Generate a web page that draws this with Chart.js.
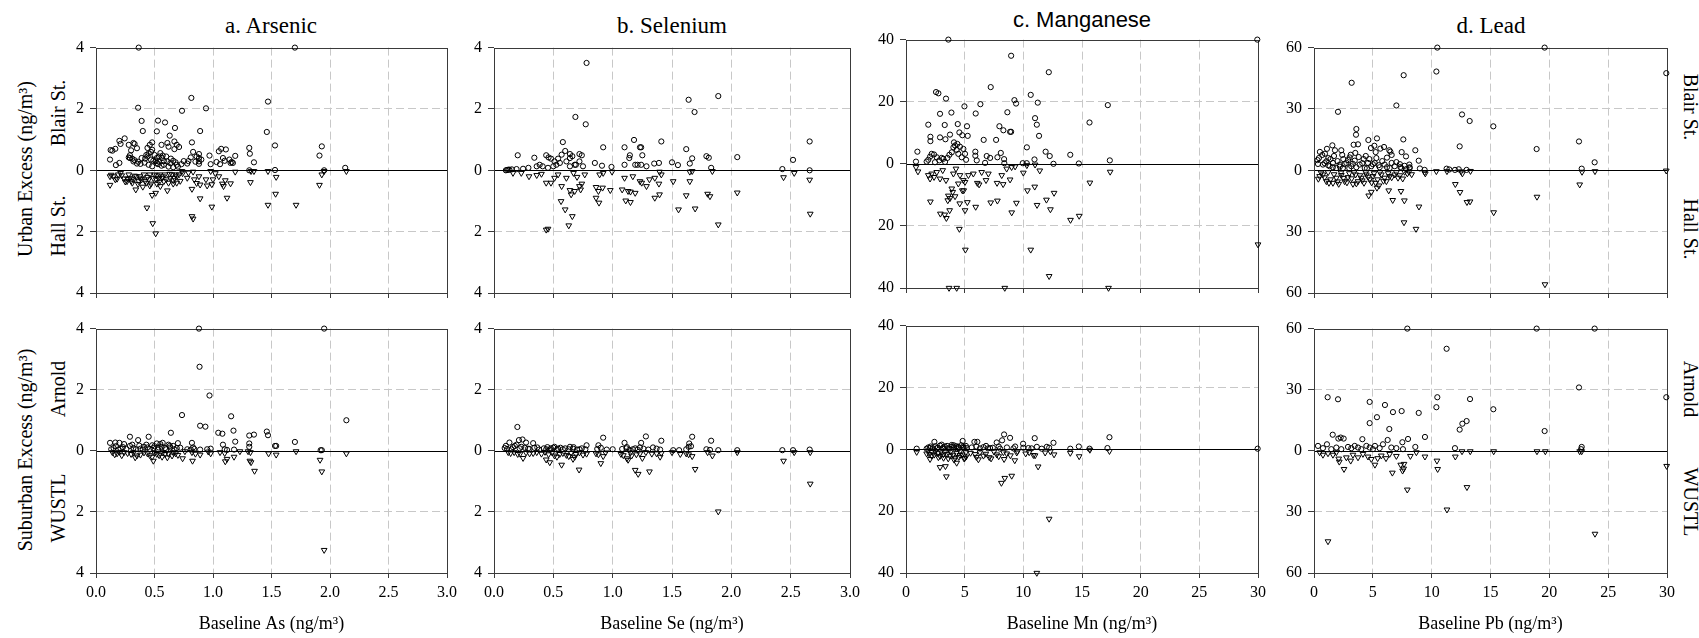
<!DOCTYPE html>
<html><head><meta charset="utf-8">
<script src="https://cdn.jsdelivr.net/npm/chart.js@4.4.1/dist/chart.umd.min.js"></script>
<style>
body{margin:0;background:#fff;width:1699px;height:638px;overflow:hidden;position:relative;font-family:"Liberation Serif","Times New Roman",serif;}
canvas{position:absolute;}
.t{position:absolute;white-space:nowrap;line-height:1;color:#000;}
.c{transform:translateX(-50%);}
.rl{transform:translate(-50%,-50%) rotate(-90deg);}
.rr{transform:translate(-50%,-50%) rotate(90deg);}
</style></head><body>
<div class="t c" style="left:271px;top:14px;font-size:23px;">a. Arsenic</div>
<div class="t c" style="left:672px;top:14px;font-size:23px;">b. Selenium</div>
<div class="t c" style="left:1082px;top:9px;font-size:22px;font-family:'Liberation Sans',sans-serif;">c. Manganese</div>
<div class="t c" style="left:1491px;top:14px;font-size:23px;">d. Lead</div>
<div class="t rl" style="left:25px;top:169px;font-size:20px;">Urban Excess (ng/m³)</div>
<div class="t rl" style="left:58px;top:113px;font-size:20px;">Blair St.</div>
<div class="t rl" style="left:58px;top:226px;font-size:20px;">Hall St.</div>
<div class="t rl" style="left:25px;top:450px;font-size:20px;">Suburban Excess (ng/m³)</div>
<div class="t rl" style="left:58px;top:389px;font-size:20px;">Arnold</div>
<div class="t rl" style="left:58px;top:508px;font-size:20px;">WUSTL</div>
<div class="t rr" style="left:1691px;top:107px;font-size:20px;">Blair St.</div>
<div class="t rr" style="left:1691px;top:229px;font-size:20px;">Hall St.</div>
<div class="t rr" style="left:1691px;top:389px;font-size:20px;">Arnold</div>
<div class="t rr" style="left:1691px;top:502px;font-size:20px;">WUSTL</div>
<script>
// ---- Data: [baseline, excess] pairs (Hall St./WUSTL excess stored as magnitudes) ----
const asBlair = [[0.365,4],[1.70,4],[0.36,2.04],[0.815,2.36],[0.94,2.02],[0.735,1.94],[1.47,2.24],[1.46,1.25],[0.39,1.61],[0.40,1.28],[0.53,1.62],[0.59,1.56],[0.52,1.27],[0.675,1.38],[0.89,1.28],[0.63,1.13],[0.82,0.91],[1.53,0.81],[1.93,0.78],[1.91,0.48],[0.245,1.04],[0.20,0.96],[0.32,0.89],[0.33,0.86],[0.28,0.83],[0.125,0.66],[0.14,0.64],[0.165,0.70],[0.21,0.86],[0.12,0.35],[0.17,0.17],[0.20,0.24],[0.28,0.42],[0.29,0.40],[0.30,0.65],[0.35,0.72],[0.44,0.73],[0.46,0.83],[0.48,0.91],[0.48,0.67],[0.56,0.83],[0.55,0.56],[0.57,0.48],[0.61,0.89],[0.62,0.77],[0.67,0.94],[0.67,0.69],[0.69,0.83],[0.71,0.76],[0.83,0.60],[0.81,0.42],[0.88,0.53],[0.88,0.40],[0.88,0.29],[0.88,0.21],[0.97,0.48],[0.98,0.20],[0.79,0.30],[0.85,0.28],[1.05,0.62],[1.07,0.70],[1.11,0.68],[1.085,0.40],[1.10,0.31],[1.19,0.47],[1.15,0.24],[1.17,0.24],[1.31,0.73],[1.315,0.54],[1.35,0.26],[1.31,0.0],[1.53,0.01],[1.95,0.0],[2.13,0.08],[0.32,0.29],[0.35,0.22],[0.39,0.40],[0.44,0.45],[0.47,0.35],[0.49,0.31],[0.52,0.40],[0.535,0.29],[0.565,0.40],[0.58,0.18],[0.61,0.29],[0.635,0.23],[0.66,0.31],[0.69,0.18],[0.66,0.10],[0.48,0.13],[0.45,0.18],[0.415,0.25],[0.52,0.24],[0.29,0.49],[0.31,0.38],[0.33,0.33],[0.36,0.28],[0.38,0.21],[0.42,0.38],[0.43,0.5],[0.45,0.55],[0.47,0.6],[0.5,0.5],[0.51,0.3],[0.53,0.2],[0.54,0.45],[0.56,0.15],[0.58,0.3],[0.6,0.45],[0.62,0.12],[0.64,0.38],[0.68,0.26],[0.7,0.12],[0.73,0.2],[0.75,0.3],[0.78,0.22],[0.86,0.45],[0.9,0.35],[1.03,0.27],[1.06,0.2],[1.14,0.35],[1.16,0.27]];
const asHall = [[0.12,0.48],[0.12,0.2],[0.165,0.3],[0.19,0.14],[0.21,0.09],[0.265,0.36],[0.29,0.25],[0.31,0.41],[0.34,0.63],[0.365,0.36],[0.375,0.2],[0.40,0.54],[0.435,1.22],[0.43,0.41],[0.45,0.3],[0.48,0.81],[0.485,1.73],[0.51,2.06],[0.51,0.74],[0.52,0.44],[0.535,0.25],[0.55,0.52],[0.58,0.36],[0.61,0.66],[0.635,0.25],[0.66,0.44],[0.68,0.14],[0.69,0.41],[0.735,0.03],[0.78,0.25],[0.82,0.61],[0.82,1.50],[0.83,1.58],[0.83,0.05],[0.88,0.2],[0.89,0.47],[0.89,0.92],[0.94,0.30],[0.99,1.19],[0.99,0.46],[0.98,0.03],[1.05,0.2],[1.08,0.44],[1.09,0.52],[1.105,0.33],[1.12,0.90],[1.15,0.43],[1.19,0.05],[1.32,0.39],[1.325,0.03],[1.35,0.03],[1.47,1.13],[1.47,0.03],[1.535,0.77],[1.54,0.22],[1.71,1.13],[1.91,0.48],[1.93,0.14],[1.95,0.03],[2.14,0.03],[0.24,0.27],[0.28,0.14],[0.32,0.3],[0.345,0.2],[0.39,0.3],[0.41,0.14],[0.46,0.14],[0.47,0.44],[0.50,0.14],[0.515,0.3],[0.545,0.14],[0.565,0.25],[0.59,0.14],[0.62,0.41],[0.65,0.14],[0.67,0.25],[0.71,0.14],[0.13,0.15],[0.15,0.2],[0.18,0.28],[0.22,0.17],[0.25,0.37],[0.27,0.28],[0.30,0.35],[0.33,0.18],[0.36,0.45],[0.38,0.27],[0.42,0.35],[0.44,0.22],[0.46,0.5],[0.49,0.26],[0.52,0.17],[0.54,0.38],[0.57,0.2],[0.6,0.3],[0.63,0.12],[0.66,0.33],[0.69,0.2],[0.72,0.35],[0.74,0.1],[0.79,0.08],[0.84,0.3],[0.86,0.42],[0.95,0.5],[1.0,0.3],[1.02,0.1]];
const asArnold = [[0.88,4],[1.95,4],[0.885,2.75],[0.97,1.81],[0.735,1.17],[1.155,1.13],[2.14,1.0],[0.89,0.82],[0.935,0.79],[0.64,0.59],[1.045,0.59],[1.08,0.56],[1.175,0.66],[1.19,0.30],[1.31,0.50],[1.35,0.53],[1.46,0.63],[1.47,0.51],[1.70,0.29],[1.53,0.16],[1.54,0.16],[1.31,0.24],[1.31,0.13],[0.29,0.46],[0.45,0.46],[0.36,0.35],[0.12,0.26],[0.165,0.27],[0.20,0.26],[0.24,0.22],[0.29,0.16],[0.41,0.13],[0.48,0.18],[0.52,0.24],[0.55,0.22],[0.57,0.26],[0.62,0.20],[0.66,0.16],[0.70,0.25],[0.82,0.26],[1.085,0.20],[0.83,0.11],[1.92,0.02],[1.93,0.02],[0.15,0.09],[0.21,0.07],[0.32,0.09],[0.38,0.07],[0.44,0.11],[0.49,0.09],[0.535,0.11],[0.59,0.09],[0.635,0.11],[0.69,0.09],[0.78,0.05],[0.89,0.04],[0.98,0.07],[1.18,0.04],[0.13,0.05],[0.17,0.15],[0.19,0.04],[0.23,0.12],[0.26,0.06],[0.31,0.2],[0.34,0.05],[0.37,0.17],[0.4,0.04],[0.43,0.2],[0.46,0.06],[0.5,0.15],[0.53,0.04],[0.56,0.13],[0.6,0.05],[0.63,0.16],[0.67,0.05],[0.72,0.1],[0.81,0.04],[0.84,0.06],[0.95,0.05],[1.1,0.05],[1.12,0.03]];
const asWustl = [[1.95,3.25],[1.93,0.68],[1.915,0.30],[1.355,0.66],[1.315,0.33],[1.325,0.38],[1.105,0.35],[1.12,0.27],[1.18,0.20],[0.825,0.33],[0.74,0.25],[0.335,0.22],[0.49,0.33],[0.61,0.22],[1.54,0.13],[1.475,0.09],[1.71,0.02],[2.14,0.09],[0.89,0.13],[0.98,0.09],[0.14,0.05],[0.18,0.09],[0.24,0.05],[0.30,0.11],[0.38,0.13],[0.44,0.09],[0.48,0.20],[0.52,0.11],[0.565,0.20],[0.59,0.11],[0.65,0.16],[0.68,0.09],[0.76,0.02],[0.82,0.05],[1.06,0.05],[1.23,0.02],[1.30,0.02],[0.16,0.12],[0.2,0.04],[0.22,0.15],[0.27,0.08],[0.32,0.05],[0.35,0.16],[0.41,0.06],[0.46,0.15],[0.5,0.06],[0.54,0.15],[0.57,0.05],[0.62,0.1],[0.66,0.05],[0.7,0.14],[0.85,0.1],[0.96,0.03],[1.1,0.08],[1.32,0.05]];

const seBlair = [[0.78,3.50],[0.686,1.74],[0.773,1.50],[1.64,2.30],[1.69,1.90],[1.89,2.42],[0.58,0.92],[0.60,0.63],[1.18,0.99],[1.10,0.75],[1.23,0.75],[1.24,0.75],[1.41,0.94],[0.92,0.75],[1.62,0.69],[0.20,0.49],[0.34,0.41],[0.44,0.49],[0.46,0.42],[0.48,0.38],[0.51,0.29],[0.54,0.38],[0.57,0.51],[0.64,0.53],[0.66,0.46],[0.72,0.53],[0.74,0.49],[0.64,0.40],[0.68,0.18],[1.14,0.40],[1.145,0.49],[1.25,0.49],[1.67,0.39],[1.65,0.22],[1.79,0.46],[1.81,0.41],[1.50,0.26],[1.55,0.17],[2.05,0.43],[2.52,0.34],[2.66,0.94],[2.66,0.0],[2.43,0.04],[0.85,0.24],[0.91,0.15],[0.99,0.11],[1.10,0.18],[1.19,0.18],[1.21,0.18],[1.24,0.18],[1.35,0.22],[1.39,0.24],[1.285,0.13],[1.83,0.08],[0.10,0.0],[0.11,0.01],[0.12,0.02],[0.13,0.02],[0.15,0.03],[0.19,0.04],[0.245,0.05],[0.29,0.08],[0.36,0.13],[0.385,0.18],[0.41,0.13],[0.455,0.08],[0.50,0.13],[0.525,0.18],[0.555,0.24],[0.61,0.29],[0.64,0.13],[0.69,0.18],[0.72,0.29],[0.75,0.13]];
const seHall = [[0.44,1.94],[0.455,1.91],[0.63,1.80],[0.565,1.01],[0.60,1.28],[0.66,1.50],[0.57,0.52],[0.64,0.65],[0.65,0.79],[0.68,0.68],[0.72,0.52],[0.74,0.44],[0.73,0.63],[0.86,0.55],[0.88,0.68],[0.915,0.57],[0.86,0.90],[0.885,1.06],[0.98,0.65],[1.08,0.63],[1.13,0.68],[1.15,0.70],[1.19,0.74],[1.11,0.99],[1.15,1.04],[1.23,0.36],[1.245,0.41],[1.285,0.52],[1.31,0.30],[1.355,0.25],[1.39,0.44],[1.355,0.90],[1.395,0.79],[1.41,0.14],[1.51,0.36],[1.555,1.28],[1.62,0.82],[1.65,0.36],[1.65,0.05],[1.67,0.03],[1.695,1.25],[1.80,0.77],[1.82,0.85],[1.84,0.03],[1.89,1.77],[2.05,0.73],[2.44,0.23],[2.53,0.09],[2.66,0.31],[2.665,1.42],[0.16,0.09],[0.23,0.09],[0.295,0.2],[0.36,0.16],[0.40,0.12],[0.44,0.41],[0.48,0.41],[0.51,0.25],[0.54,0.14],[0.61,0.25],[0.67,0.09],[0.70,0.22],[0.765,0.14],[0.89,0.14],[0.92,0.09],[0.995,0.05],[1.10,0.25],[1.17,0.2],[1.395,0.05]];
const seArnold = [[0.197,0.78],[0.13,0.27],[0.21,0.35],[0.24,0.37],[0.27,0.27],[0.33,0.25],[0.10,0.16],[0.175,0.16],[0.92,0.43],[0.88,0.18],[1.10,0.26],[1.24,0.26],[1.28,0.47],[1.41,0.33],[1.67,0.46],[1.645,0.24],[1.83,0.33],[1.64,0.13],[1.23,0.11],[1.34,0.11],[1.89,0.02],[2.05,0.02],[2.43,0.02],[2.52,0.02],[2.66,0.04],[1.51,0.02],[1.56,0.02],[0.365,0.11],[0.51,0.13],[0.64,0.13],[0.78,0.18],[1.0,0.05],[1.79,0.05],[0.09,0.09],[0.146,0.05],[0.216,0.08],[0.287,0.07],[0.44,0.05],[0.48,0.08],[0.54,0.07],[0.58,0.05],[0.666,0.07],[0.72,0.05],[1.116,0.08],[1.17,0.05],[1.37,0.07],[0.11,0.06],[0.16,0.12],[0.19,0.2],[0.23,0.13],[0.26,0.1],[0.3,0.06],[0.34,0.1],[0.38,0.04],[0.42,0.08],[0.45,0.12],[0.47,0.04],[0.5,0.1],[0.53,0.04],[0.56,0.1],[0.6,0.08],[0.63,0.05],[0.67,0.12],[0.7,0.04],[0.74,0.08],[0.77,0.05],[0.87,0.06],[0.9,0.1],[0.95,0.04],[1.08,0.06],[1.12,0.12],[1.14,0.03],[1.19,0.08],[1.21,0.04],[1.26,0.07],[1.3,0.04],[1.4,0.04],[1.62,0.05],[1.66,0.15],[1.82,0.03]];
const seWustl = [[1.89,1.99],[2.665,1.08],[2.44,0.33],[1.695,0.60],[1.31,0.68],[1.215,0.76],[1.19,0.63],[0.717,0.62],[0.57,0.46],[0.47,0.38],[0.44,0.29],[0.90,0.41],[0.245,0.24],[1.13,0.30],[1.25,0.24],[0.666,0.27],[0.92,0.18],[1.40,0.2],[1.67,0.18],[1.84,0.16],[1.57,0.11],[2.05,0.05],[2.53,0.05],[2.665,0.05],[0.20,0.11],[0.12,0.05],[0.30,0.09],[0.51,0.16],[0.554,0.11],[0.61,0.14],[0.69,0.11],[0.75,0.13],[0.86,0.09],[1.07,0.11],[1.16,0.16],[1.23,0.09],[1.37,0.09],[1.62,0.09],[0.14,0.08],[0.17,0.05],[0.22,0.1],[0.27,0.06],[0.33,0.08],[0.36,0.05],[0.4,0.1],[0.43,0.04],[0.46,0.12],[0.49,0.06],[0.53,0.2],[0.58,0.08],[0.63,0.18],[0.65,0.07],[0.68,0.2],[0.72,0.06],[0.78,0.1],[0.88,0.12],[0.94,0.06],[1.09,0.15],[1.12,0.25],[1.15,0.06],[1.2,0.12],[1.28,0.05],[1.33,0.1],[1.41,0.08],[1.5,0.05],[1.64,0.12],[1.8,0.05]];

const mnBlair = [[3.61,40],[29.94,40],[8.96,34.8],[12.17,29.5],[7.22,24.7],[2.56,23.1],[2.76,22.7],[3.41,21.0],[10.63,22.2],[11.23,19.7],[9.24,20.5],[9.38,19.4],[6.34,19.2],[4.98,18.5],[17.2,18.9],[3.87,16.5],[2.90,16.1],[5.94,16.2],[8.64,16.6],[11.0,14.7],[11.15,12.6],[15.64,13.3],[1.90,12.6],[3.30,12.5],[4.41,12.8],[5.20,12.1],[7.96,12.1],[8.30,10.8],[8.87,10.3],[8.96,10.3],[11.34,9.0],[2.08,8.7],[2.08,7.3],[2.90,8.5],[3.75,9.4],[4.55,10.1],[4.80,9.2],[5.26,9.0],[6.62,7.7],[7.68,7.7],[3.36,7.9],[10.3,5.3],[5.91,3.9],[5.91,2.6],[6.88,2.5],[7.17,1.9],[8.08,3.5],[7.79,2.1],[8.36,1.5],[11.9,3.9],[12.25,2.5],[14.0,2.9],[10.95,1.4],[17.37,1.1],[0.97,3.9],[0.85,0.7],[1.9,1.3],[2.05,2.3],[2.19,3.2],[2.39,3.0],[2.62,2.1],[2.84,1.1],[3.04,1.9],[3.33,0.6],[3.53,1.9],[3.70,2.9],[3.90,3.7],[4.04,5.3],[4.18,5.9],[4.32,4.5],[4.46,3.2],[4.6,5.5],[4.75,2.1],[4.89,4.8],[5.03,3.2],[5.12,1.3],[4.09,6.9],[4.38,6.4],[3.18,1.6],[2.47,0.5],[1.76,0.7],[6.03,1.1],[6.74,0.3],[8.38,0.2],[9.95,0.2],[10.29,0.2],[12.57,0.0],[14.73,0.1]];
const mnHall = [[3.67,40],[4.32,40],[8.42,40],[17.26,40],[30.0,26.0],[12.2,36.2],[5.06,27.7],[10.63,27.7],[4.55,21.0],[2.93,16.1],[3.30,16.4],[3.44,17.5],[3.72,15.0],[2.08,12.2],[4.58,12.8],[5.03,15.0],[5.23,12.4],[5.94,13.9],[7.22,12.5],[7.79,11.9],[9.01,15.7],[9.41,12.6],[11.17,13.3],[11.97,11.6],[12.31,14.7],[12.62,9.4],[14.02,18.1],[14.76,16.8],[15.67,6.1],[17.40,2.6],[10.0,2.9],[10.35,8.6],[10.97,7.4],[11.4,2.2],[4.8,8.6],[4.92,8.6],[3.61,10.3],[3.75,11.1],[3.98,9.1],[4.18,10.5],[3.90,8.0],[3.56,11.8],[6.08,6.2],[6.23,6.7],[6.82,5.3],[7.76,6.2],[8.28,6.6],[8.87,5.1],[8.16,3.7],[5.32,3.7],[4.46,6.4],[4.89,5.3],[1.02,2.5],[0.85,1.1],[1.90,3.7],[2.05,4.8],[2.19,3.2],[2.39,4.3],[2.62,2.7],[2.90,4.8],[3.13,2.1],[3.41,5.3],[4.04,3.2],[4.26,1.6],[4.6,3.7],[5.03,5.9],[5.74,3.2],[6.45,2.7],[7.02,3.2],[8.58,1.6],[9.0,1.1],[9.3,0.9],[10.3,0.5],[11.0,0.3]];
const mnArnold = [[8.36,4.8],[8.19,2.9],[8.87,3.7],[7.73,2.2],[17.34,3.9],[10.97,3.6],[9.98,1.8],[12.57,2.1],[14.73,0.9],[14.0,0.2],[2.42,2.4],[3.04,1.5],[4.83,2.7],[5.83,2.4],[6.08,2.4],[6.82,1.1],[4.07,1.3],[4.46,0.8],[11.15,0.8],[12.0,0.8],[17.17,0.4],[15.64,0.2],[29.97,0.2],[0.91,0.2],[1.76,0.2],[2.05,0.4],[2.62,0.3],[3.18,0.6],[3.61,0.4],[3.9,0.8],[4.32,0.3],[4.89,0.9],[5.17,0.4],[6.31,0.3],[7.17,0.4],[8.02,0.2],[9.16,0.3],[10.43,0.4],[11.57,0.2],[1.9,0.6],[2.1,0.9],[2.3,0.3],[2.5,1.0],[2.7,0.5],[2.9,1.2],[3.1,0.3],[3.3,0.9],[3.5,1.1],[3.7,0.2],[3.9,1.4],[4.1,0.6],[4.3,1.0],[4.5,0.4],[4.7,1.3],[4.9,0.5],[5.1,1.1],[5.6,0.6],[6.0,0.9],[6.6,0.7],[7.0,0.3],[7.4,0.5],[7.9,0.9],[8.6,0.6],[9.3,0.9],[10.0,0.5],[10.7,0.3],[12.2,0.5]];
const mnWustl = [[11.15,40],[12.2,22.5],[8.13,10.9],[8.42,9.3],[9.01,8.6],[3.44,8.8],[2.90,5.8],[3.36,5.5],[11.26,5.6],[9.27,3.6],[8.36,3.2],[7.25,3.0],[6.17,3.3],[4.32,4.4],[2.05,3.2],[4.95,3.0],[14.76,2.3],[12.62,1.7],[14.0,1.2],[10.86,1.9],[10.2,1.4],[17.34,0.6],[15.67,0.2],[0.91,0.9],[1.76,1.4],[2.19,2.1],[2.76,2.6],[3.18,1.7],[3.75,2.1],[4.18,2.8],[4.6,1.9],[5.12,2.4],[5.89,1.6],[6.6,2.1],[7.73,1.7],[8.58,1.4],[9.44,1.1],[11.86,1.1],[1.9,0.5],[2.0,1.6],[2.2,0.8],[2.4,1.8],[2.5,0.6],[2.7,1.3],[2.9,2.2],[3.0,0.7],[3.2,2.8],[3.3,1.0],[3.5,1.6],[3.6,3.0],[3.8,0.8],[4.0,1.8],[4.1,3.4],[4.3,1.2],[4.5,2.5],[4.6,0.7],[4.8,1.7],[5.0,2.9],[5.1,1.0],[5.5,1.2],[6.0,2.5],[6.3,1.0],[6.8,1.5],[7.1,2.6],[7.5,0.8],[7.9,2.3],[8.3,1.0],[8.9,2.0],[9.5,0.7],[10.5,1.0],[11.0,2.0],[12.3,0.7]];

const pbBlair = [[10.48,60],[19.6,60],[29.94,47.5],[10.4,48.3],[7.62,46.5],[3.20,42.8],[2.04,28.6],[7.0,31.7],[12.58,27.3],[13.23,24.1],[15.24,21.5],[12.38,11.7],[18.92,10.4],[22.52,14.1],[23.85,3.9],[22.75,0.8],[3.60,20.2],[3.57,17.4],[3.37,12.5],[3.74,12.7],[3.51,8.5],[4.62,14.8],[5.35,15.6],[4.84,10.9],[5.13,12.0],[5.24,8.9],[5.64,10.6],[5.95,11.4],[6.40,9.8],[6.49,9.1],[7.59,15.1],[7.45,8.9],[7.82,6.8],[8.61,9.8],[8.9,4.7],[1.56,12.2],[2.32,9.8],[1.78,9.8],[2.49,5.5],[0.42,6.0],[0.34,3.1],[0.93,8.1],[1.22,6.0],[3.03,6.3],[3.12,7.6],[4.22,5.5],[6.20,6.2],[6.6,3.6],[7.34,1.6],[8.13,1.5],[9.40,0.2],[11.27,0.8],[11.98,0.2],[12.97,0.2],[0.76,2.8],[1.05,4.4],[1.33,2.0],[1.61,3.6],[1.9,1.1],[2.18,2.8],[2.46,1.1],[2.75,3.6],[3.17,2.0],[3.46,4.7],[3.88,2.8],[4.31,1.1],[4.59,3.6],[4.87,2.0],[5.16,3.6],[5.58,1.5],[6.0,2.8],[6.43,1.1],[6.86,2.0],[7.42,1.1],[7.85,0.6],[8.13,1.1],[0.3,5.0],[0.5,9.0],[0.7,7.5],[0.9,3.5],[1.1,10.5],[1.2,2.5],[1.4,5.5],[1.6,1.5],[1.7,7.0],[2.0,4.5],[2.2,1.8],[2.4,7.5],[2.6,3.0],[2.9,5.0],[3.0,1.0],[3.3,3.2],[3.6,1.5],[3.8,6.5],[4.1,3.5],[4.4,7.0],[4.5,1.0],[4.7,5.5],[5.0,3.0],[5.3,6.0],[5.5,2.5],[5.8,4.5],[6.2,1.5],[6.6,7.5],[7.0,4.0],[7.3,3.0],[7.7,2.2],[8.1,2.8],[9.0,0.9],[11.5,0.4],[12.3,0.5]];
const pbHall = [[19.63,55.8],[8.67,28.7],[7.65,25.5],[8.92,17.8],[7.68,14.8],[7.39,10.2],[6.69,14.6],[6.35,9.9],[4.65,12.4],[4.87,10.6],[5.35,8.6],[5.52,7.5],[6.15,5.4],[6.0,3.7],[12.01,6.8],[12.41,10.7],[13.0,15.6],[13.26,15.3],[15.27,20.6],[18.95,13.0],[22.58,7.0],[22.78,0.8],[23.88,0.5],[29.94,0.2],[12.61,1.6],[11.3,0.5],[10.4,0.5],[9.46,1.6],[7.54,4.1],[7.93,1.6],[0.37,4.2],[0.48,2.9],[0.76,2.1],[1.05,5.4],[1.27,6.2],[1.61,6.2],[1.9,3.7],[2.1,6.7],[2.32,2.4],[2.6,5.4],[2.89,3.4],[3.31,6.7],[3.54,2.1],[3.74,5.4],[4.02,3.7],[4.25,6.2],[4.45,2.1],[4.73,4.5],[5.01,2.9],[5.24,6.2],[5.72,2.1],[6.43,2.9],[6.86,2.1],[7.14,3.7],[8.07,0.8],[0.6,1.2],[0.9,3.5],[1.2,1.0],[1.4,4.5],[1.7,2.0],[2.0,5.5],[2.3,1.2],[2.5,3.8],[2.8,6.0],[3.0,1.5],[3.2,4.0],[3.4,1.0],[3.6,6.5],[3.9,2.5],[4.1,5.0],[4.4,1.0],[4.6,3.2],[4.9,6.0],[5.1,1.5],[5.4,4.5],[5.6,1.0],[5.9,5.2],[6.3,1.5],[6.6,3.5],[7.0,1.0],[7.3,2.5],[7.7,0.8],[8.3,2.0],[9.4,1.0],[12.5,0.6],[13.3,0.4]];
const pbArnold = [[7.93,60],[18.92,60],[23.85,60],[11.27,50.1],[22.52,31.1],[29.94,26.3],[1.16,26.3],[2.04,25.3],[4.73,24.0],[6.03,22.5],[6.71,19.0],[7.45,19.5],[8.9,18.6],[10.48,26.3],[10.4,21.4],[13.26,25.4],[15.24,20.4],[5.35,16.5],[4.73,13.6],[6.40,10.7],[9.43,6.8],[12.38,10.4],[12.61,13.3],[12.97,14.6],[19.6,9.7],[1.59,7.9],[2.07,6.0],[2.27,6.5],[2.52,6.0],[4.11,5.7],[6.26,5.3],[7.99,5.8],[7.51,4.2],[8.61,1.9],[11.98,1.3],[22.75,1.9],[22.7,0.8],[0.34,2.4],[1.10,3.2],[5.86,3.2],[5.18,2.4],[0.76,1.3],[1.47,0.8],[1.9,1.6],[2.32,0.8],[2.89,1.9],[3.17,1.3],[3.46,2.4],[3.74,1.6],[4.02,0.8],[4.45,2.4],[4.73,1.6],[5.01,0.8],[5.58,1.3],[6.57,1.6],[7.0,1.3],[7.56,0.8]];
const pbWustl = [[1.19,44.5],[23.88,40.8],[11.3,28.9],[13.0,17.9],[7.93,19.1],[29.97,7.5],[10.51,9.0],[10.45,4.9],[6.66,10.8],[7.53,9.8],[7.62,8.8],[7.37,6.9],[7.65,6.5],[9.43,2.9],[12.01,2.9],[2.55,9.0],[2.15,5.4],[2.10,3.9],[3.12,4.9],[5.18,6.9],[5.41,3.7],[6.12,3.7],[13.28,0.3],[12.58,0.3],[15.27,0.3],[18.95,0.3],[19.66,0.3],[22.58,0.3],[22.75,0.3],[8.19,2.6],[8.7,0.8],[0.48,0.8],[0.76,2.0],[1.19,1.3],[1.61,2.0],[1.90,0.8],[2.75,3.3],[3.31,2.0],[3.74,3.3],[4.16,1.6],[4.59,2.9],[4.87,4.1],[5.72,2.4],[6.43,1.6],[7.0,2.6]];

// axis titles
const xTitles = {As:'Baseline As (ng/m³)', Se:'Baseline Se (ng/m³)', Mn:'Baseline Mn (ng/m³)', Pb:'Baseline Pb (ng/m³)'};

// ---- layout (positions only) ----
const PAD_L = 60, PAD_T = 14, PAD_R = 24;
const panels = [
  {L:96,  T:46,  W:351, H:247, xMax:3,  xStep:0.5, dec:1, yMax:4,  yStep:2,  up:asBlair,  down:asHall,   xTitle:null},
  {L:494, T:46,  W:356, H:247, xMax:3,  xStep:0.5, dec:1, yMax:4,  yStep:2,  up:seBlair,  down:seHall,   xTitle:null},
  {L:906, T:38,  W:352, H:250, xMax:30, xStep:5,   dec:0, yMax:40, yStep:20, up:mnBlair,  down:mnHall,   xTitle:null},
  {L:1314,T:46,  W:353, H:247, xMax:30, xStep:5,   dec:0, yMax:60, yStep:30, up:pbBlair,  down:pbHall,   xTitle:null},
  {L:96,  T:327, W:351, H:246, xMax:3,  xStep:0.5, dec:1, yMax:4,  yStep:2,  up:asArnold, down:asWustl,  xTitle:xTitles.As},
  {L:494, T:327, W:356, H:246, xMax:3,  xStep:0.5, dec:1, yMax:4,  yStep:2,  up:seArnold, down:seWustl,  xTitle:xTitles.Se},
  {L:906, T:324, W:352, H:249, xMax:30, xStep:5,   dec:0, yMax:40, yStep:20, up:mnArnold, down:mnWustl,  xTitle:xTitles.Mn},
  {L:1314,T:327, W:353, H:246, xMax:30, xStep:5,   dec:0, yMax:60, yStep:30, up:pbArnold, down:pbWustl,  xTitle:xTitles.Pb}
];

const framePlugin = {
  id:'frame',
  beforeDatasetsDraw(chart){
    const {ctx, chartArea:a, scales:{y}} = chart;
    ctx.save();
    ctx.lineWidth = 1;
    const y0 = Math.round(y.getPixelForValue(0)) + 0.5;
    ctx.strokeStyle = '#000';
    ctx.beginPath(); ctx.moveTo(a.left, y0); ctx.lineTo(a.right, y0); ctx.stroke();
    ctx.strokeStyle = '#3a3a3a';
    ctx.strokeRect(Math.round(a.left)+0.5, Math.round(a.top)+0.5, Math.round(a.right-a.left), Math.round(a.bottom-a.top));
    ctx.restore();
  }
};

const SERIF = "'Liberation Serif', 'Times New Roman', serif";
Chart.defaults.font.family = SERIF;

panels.forEach(p => {
  const xh = p.xTitle ? 62 : 16;
  const cv = document.createElement('canvas');
  const w = p.W + PAD_L + PAD_R, h = p.H + PAD_T + xh;
  cv.width = w; cv.height = h;
  cv.style.left = (p.L - PAD_L) + 'px';
  cv.style.top = (p.T - PAD_T) + 'px';
  cv.style.width = w + 'px'; cv.style.height = h + 'px';
  document.body.appendChild(cv);
  const edgeX = c => (c.tick && (c.tick.value === 0 || c.tick.value === p.xMax)) ? 'rgba(0,0,0,0)' : '#c8c8c8';
  const edgeY = c => (c.tick && (Math.abs(c.tick.value) === p.yMax || c.tick.value === 0)) ? 'rgba(0,0,0,0)' : '#c8c8c8';
  new Chart(cv, {
    type:'scatter',
    data:{datasets:[
      {data:p.up.map(([x,y]) => ({x, y})), pointStyle:'circle', radius:2.6, borderColor:'#000', backgroundColor:'rgba(0,0,0,0)', borderWidth:1, clip:false},
      {data:p.down.map(([x,y]) => ({x, y:-y})), pointStyle:'triangle', rotation:180, radius:3.3, borderColor:'#000', backgroundColor:'rgba(0,0,0,0)', borderWidth:1, clip:false}
    ]},
    options:{
      responsive:false, animation:false, devicePixelRatio:1, events:[],
      layout:{padding:{left:0, top:PAD_T, right:PAD_R, bottom:0}},
      plugins:{legend:{display:false}, tooltip:{enabled:false}},
      scales:{
        x:{type:'linear', min:0, max:p.xMax,
           afterFit:s => { s.height = xh; },
           ticks:{stepSize:p.xStep, autoSkip:false, maxRotation:0, padding:5,
                  callback:v => Number(v).toFixed(p.dec),
                  color: p.xTitle ? '#000' : 'rgba(0,0,0,0)',
                  font:{family:SERIF, size:16}},
           grid:{color:edgeX, tickColor:'#3a3a3a', tickLength:5, lineWidth:1, tickBorderDash:[]},
           border:{display:false, dash:[8,4]},
           title:{display:!!p.xTitle, text:p.xTitle || '', color:'#000', padding:0,
                  font:{family:SERIF, size:18}}},
        y:{type:'linear', min:-p.yMax, max:p.yMax,
           afterFit:s => { s.width = PAD_L; },
           ticks:{stepSize:p.yStep, autoSkip:false, padding:6, color:'#000',
                  callback:v => String(Math.abs(v)),
                  font:{family:SERIF, size:16}},
           grid:{color:edgeY, tickColor:'#3a3a3a', tickLength:6, lineWidth:1, tickBorderDash:[]},
           border:{display:false, dash:[8,4]}}
      }
    },
    plugins:[framePlugin]
  });
});
</script>
</body></html>
